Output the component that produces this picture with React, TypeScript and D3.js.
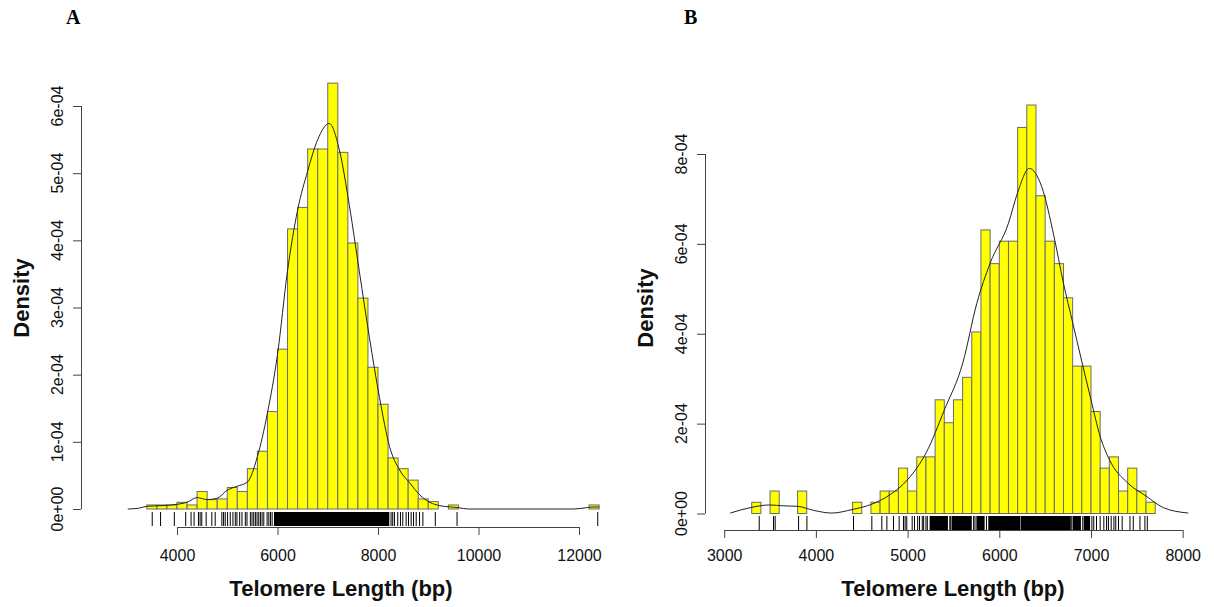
import { useEffect, useRef } from "react";
import * as d3 from "d3";

// Panel A: telomere length, bins of 200 bp, density in units of 1e-4
const aBinLeft = [3400, 3600, 3800, 4000, 4200, 4400, 4600, 4800, 5000, 5200, 5400, 5600, 5800, 6000, 6200, 6400, 6600, 6800, 7000, 7200, 7400, 7600, 7800, 8000, 8200, 8400, 8600, 8800, 9000, 9400, 12200];
const aDensity = [0.06, 0.06, 0.06, 0.1, 0.06, 0.26, 0.14, 0.15, 0.32, 0.26, 0.6, 0.86, 1.45, 2.38, 4.17, 4.49, 5.36, 5.36, 6.34, 5.31, 3.96, 3.14, 2.11, 1.56, 0.76, 0.6, 0.43, 0.15, 0.11, 0.06, 0.06];
const aCurveX = [3020, 3230, 3400, 3700, 4000, 4200, 4400, 4600, 4800, 5000, 5200, 5400, 5600, 5800, 6000, 6200, 6400, 6600, 6800, 7030, 7230, 7430, 7630, 7830, 8030, 8230, 8430, 8630, 8830, 9030, 9230, 9600, 9800, 11900, 12150, 12300, 12400];
const aCurveY = [0, 0.01, 0.04, 0.05, 0.07, 0.1, 0.17, 0.14, 0.16, 0.28, 0.34, 0.4, 0.78, 1.43, 2.3, 3.55, 4.45, 5.03, 5.5, 5.74, 5.35, 4.52, 3.53, 2.55, 1.66, 0.93, 0.58, 0.39, 0.21, 0.1, 0.05, 0.02, 0, 0, 0.02, 0.03, 0.03];
const aRug = [3507, 3673, 3947, 4173, 4280, 4340, 4427, 4460, 4493, 4580, 4693, 4760, 4893, 4927, 4960, 5007, 5060, 5113, 5160, 5193, 5247, 5293, 5360, 5393, 5460, 5493, 5527, 5560, 5593, 5627, 5660, 5693, 5727, 5793, 5827, 5860, 5893, 8260, 8293, 8327, 8393, 8447, 8493, 8560, 8607, 8660, 8707, 8760, 8827, 8893, 9140, 9573, 12373];
const aRugSolid = [[5930, 8225]];
const aTicksX = [4000, 6000, 8000, 10000, 12000];
const aTicksY = [0, 1, 2, 3, 4, 5, 6];

// Panel B: bins of 100 bp
const bBinLeft = [3300, 3500, 3800, 4400, 4600, 4700, 4800, 4900, 5000, 5100, 5200, 5300, 5400, 5500, 5600, 5700, 5800, 5900, 6000, 6100, 6200, 6300, 6400, 6500, 6600, 6700, 6800, 6900, 7000, 7100, 7200, 7300, 7400, 7500, 7600];
const bDensity = [0.25, 0.5, 0.5, 0.25, 0.25, 0.5, 0.5, 1.01, 0.5, 1.26, 1.26, 2.53, 2.02, 2.53, 3.03, 4.04, 6.31, 5.56, 6.06, 6.06, 8.59, 9.09, 7.07, 6.06, 5.56, 4.8, 3.28, 3.28, 2.27, 1.01, 1.26, 0.5, 1.01, 0.5, 0.25];
const bCurveX = [3066, 3284, 3494, 3647, 3800, 3974, 4174, 4399, 4600, 4810, 5003, 5202, 5402, 5602, 5755, 5900, 6100, 6198, 6328, 6463, 6597, 6699, 6801, 7000, 7099, 7200, 7400, 7600, 7789, 8061];
const bCurveY = [0.01, 0.13, 0.19, 0.17, 0.16, 0.07, 0.01, 0.09, 0.2, 0.42, 0.76, 1.35, 2.31, 3.35, 4.68, 5.57, 6.46, 7.13, 7.68, 7.27, 6.16, 5.13, 4.24, 2.53, 1.72, 1.2, 0.68, 0.39, 0.13, 0.01];
const bRug = [3382, 3538, 3556, 3811, 3902, 4410, 4610, 4719, 4774, 4846, 4908, 4955, 4973, 4991, 5050, 5075, 5110, 5130, 5160, 5175, 5200, 5215, 5460, 5470, 5720, 5735, 5860, 6790, 6910, 7010, 7030, 7060, 7100, 7140, 7170, 7190, 7220, 7250, 7270, 7300, 7340, 7425, 7461, 7534, 7588, 7614];
const bRugSolid = [[5240, 5440], [5480, 5700], [5750, 5840], [5880, 6230], [6235, 6780], [6800, 6890], [6920, 6990]];
const bTicksX = [3000, 4000, 5000, 6000, 7000, 8000];
const bTicksY = [0, 2, 4, 6, 8];

const font = "'Liberation Sans', Arial, sans-serif";

function drawPanel(svg, p) {
  const g = svg.append("g");
  const x = d3.scaleLinear().domain(p.xDomain).range(p.xRange);
  const y = d3.scaleLinear().domain(p.yDomain).range(p.yRange);

  // bars
  g.selectAll("rect.bar")
    .data(p.binLeft.map((l, i) => ({ l, d: p.density[i] })))
    .join("rect")
    .attr("x", (d) => x(d.l))
    .attr("y", (d) => y(d.d))
    .attr("width", (d) => x(d.l + p.binWidth) - x(d.l))
    .attr("height", (d) => y(0) - y(d.d))
    .attr("fill", "#ffff00")
    .attr("stroke", "#6b6b6b")
    .attr("stroke-width", 1);

  // density curve
  const line = d3
    .line()
    .x((d) => x(d[0]))
    .y((d) => y(d[1]))
    .curve(d3.curveMonotoneX);
  g.append("path")
    .attr("d", line(p.curveX.map((v, i) => [v, p.curveY[i]])))
    .attr("fill", "none")
    .attr("stroke", "#222")
    .attr("stroke-width", 1);

  // rug
  g.selectAll("line.rug")
    .data(p.rug)
    .join("line")
    .attr("x1", (d) => x(d))
    .attr("x2", (d) => x(d))
    .attr("y1", p.rugTop)
    .attr("y2", p.rugBottom)
    .attr("stroke", "#000")
    .attr("stroke-width", 1);
  g.selectAll("rect.rugsolid")
    .data(p.rugSolid)
    .join("rect")
    .attr("x", (d) => x(d[0]))
    .attr("width", (d) => x(d[1]) - x(d[0]))
    .attr("y", p.rugTop)
    .attr("height", p.rugBottom - p.rugTop)
    .attr("fill", "#000");

  // x axis
  const xa = g.append("g").attr("transform", `translate(0,${p.xAxisY})`);
  xa.call(d3.axisBottom(x).tickValues(p.ticksX).tickSize(8).tickFormat(d3.format("d")));
  xa.select(".domain").attr("d", `M${x(p.ticksX[0])},0.5H${x(p.ticksX[p.ticksX.length - 1])}`).attr("stroke", "#444");
  xa.selectAll(".tick line").attr("stroke", "#444");
  xa.selectAll("text")
    .attr("y", 561 - p.xAxisY)
    .attr("dy", 0)
    .attr("font-family", font)
    .attr("font-size", 16)
    .attr("fill", "#111");

  // y axis
  const ya = g.append("g").attr("transform", `translate(${p.yAxisX},0)`);
  ya.call(d3.axisLeft(y).tickValues(p.ticksY).tickSize(8).tickFormat(() => ""));
  ya.select(".domain").attr("d", `M0.5,${y(p.ticksY[0])}V${y(p.ticksY[p.ticksY.length - 1])}`).attr("stroke", "#444");
  ya.selectAll(".tick line").attr("stroke", "#444");
  g.selectAll("text.ylab")
    .data(p.ticksY)
    .join("text")
    .attr("transform", (d) => `translate(${p.yAxisX - 24},${y(d)}) rotate(-90)`)
    .attr("text-anchor", "middle")
    .attr("dominant-baseline", "central")
    .attr("font-family", font)
    .attr("font-size", 16)
    .attr("fill", "#111")
    .text((d) => (d === 0 ? "0e+00" : `${d}e-04`));

  // titles
  g.append("text")
    .attr("x", p.titleX)
    .attr("y", 596)
    .attr("text-anchor", "middle")
    .attr("font-family", font)
    .attr("font-weight", "bold")
    .attr("font-size", 22)
    .attr("fill", "#111")
    .text("Telomere Length (bp)");
  g.append("text")
    .attr("transform", `translate(${p.yAxisX - 60},${p.densityY}) rotate(-90)`)
    .attr("text-anchor", "middle")
    .attr("dominant-baseline", "central")
    .attr("font-family", font)
    .attr("font-weight", "bold")
    .attr("font-size", 22)
    .attr("fill", "#111")
    .text("Density");
  g.append("text")
    .attr("x", p.letterX)
    .attr("y", 24)
    .attr("font-family", "'Liberation Serif', 'Times New Roman', serif")
    .attr("font-weight", "bold")
    .attr("font-size", 20)
    .text(p.letter);
}

const App = () => {
  const ref = useRef(null);

  useEffect(() => {
    if (!ref.current) return;
    const svg = d3.select(ref.current);
    svg.selectAll("*").remove();

    drawPanel(svg, {
      letter: "A",
      letterX: 66,
      binLeft: aBinLeft,
      density: aDensity,
      binWidth: 200,
      curveX: aCurveX,
      curveY: aCurveY,
      rug: aRug,
      rugSolid: aRugSolid,
      ticksX: aTicksX,
      ticksY: aTicksY,
      xDomain: [4000, 12000],
      xRange: [177, 579],
      yDomain: [0, 6],
      yRange: [509, 106],
      yAxisX: 81,
      xAxisY: 527,
      rugTop: 512,
      rugBottom: 526,
      titleX: 341,
      densityY: 298,
    });

    drawPanel(svg, {
      letter: "B",
      letterX: 684,
      binLeft: bBinLeft,
      density: bDensity,
      binWidth: 100,
      curveX: bCurveX,
      curveY: bCurveY,
      rug: bRug,
      rugSolid: bRugSolid,
      ticksX: bTicksX,
      ticksY: bTicksY,
      xDomain: [3000, 8000],
      xRange: [724.2, 1182.7],
      yDomain: [0, 8],
      yRange: [513.5, 154],
      yAxisX: 705,
      xAxisY: 530,
      rugTop: 516,
      rugBottom: 530,
      titleX: 953,
      densityY: 308,
    });
  }, []);

  return (
    <svg
      ref={ref}
      width={1214}
      height={607}
      style={{ position: "absolute", left: 0, top: 0, background: "#fff" }}
    ></svg>
  );
};

export default App;
